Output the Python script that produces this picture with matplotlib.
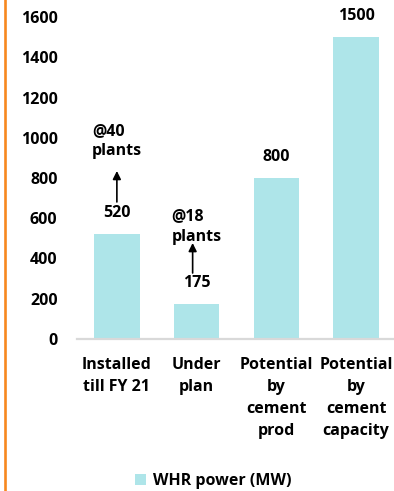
import numpy as np
import matplotlib.pyplot as plt
from matplotlib.lines import Line2D

# WHR (waste heat recovery) capacity, MW
categories = ["Installed\ntill FY 21", "Under\nplan", "Potential\nby\ncement\nprod",
              "Potential\nby\ncement\ncapacity"]
whr_mw = [520, 175, 800, 1500]
yticks = [0, 200, 400, 600, 800, 1000, 1200, 1400, 1600]

# plant count notes: (text, x, y, arrow x, arrow tail y, arrow head y)
notes = [("@40\nplants", 0.0, 985, 0.0, 681, 835),
         ("@18\nplants", 1.0, 559, 0.95, 328, 477)]

bar_color = "#AEE5E9"
plt.rcParams['font.family'] = ['Open Sans', 'DejaVu Sans']
plt.rcParams['font.weight'] = 'bold'
fs = 11.5

fig = plt.figure(figsize=(3.94, 4.91), dpi=100)
ax = fig.add_axes([77/394, 152/491, 319/394, 322/491])

x = np.arange(len(categories))
bars = ax.bar(x, whr_mw, width=0.57, color=bar_color, label="WHR power (MW)")

for xi, v in zip(x, whr_mw):
    ax.annotate(str(v), (xi, v), xytext=(0, 9.5), textcoords="offset points",
                ha="center", va="bottom", fontsize=fs, fontweight="bold")

for txt, tx, ty, axx, y0, y1 in notes:
    ax.text(tx, ty, txt, ha="center", va="center", fontsize=fs,
            fontweight="bold", multialignment="left", linespacing=1.35)
    ax.annotate("", xy=(axx, y1), xytext=(axx, y0),
                arrowprops=dict(arrowstyle="-|>", color="black", lw=1.2,
                                mutation_scale=12, shrinkA=0, shrinkB=0))

ax.set_xlim(-0.5, 3.5)
ax.set_ylim(0, 1600)
ax.set_yticks(yticks)
ax.set_yticklabels([str(t) for t in yticks], fontsize=fs, fontweight="bold")
ax.set_xticks(x)
ax.set_xticklabels(categories, fontsize=fs, fontweight="bold", linespacing=1.5)
ax.tick_params(axis="both", length=0)
ax.tick_params(axis="y", pad=14)
ax.tick_params(axis="x", pad=13)
for s in ["top", "right", "left"]:
    ax.spines[s].set_visible(False)
ax.spines["bottom"].set_color("#D9D9D9")
ax.spines["bottom"].set_linewidth(1.6)

fig.legend(handles=[bars], loc="center", bbox_to_anchor=(213/394, 1 - 481/491),
           frameon=False, fontsize=fs, handlelength=0.7, handleheight=0.7,
           handletextpad=0.4, borderpad=0, prop={"weight": "bold", "size": fs})

# orange rule down the left side
fig.add_artist(Line2D([4.7/394, 4.7/394], [0, 1], transform=fig.transFigure,
                      color="#F7881F", lw=1.9))

fig.savefig("out.png", dpi=100)
